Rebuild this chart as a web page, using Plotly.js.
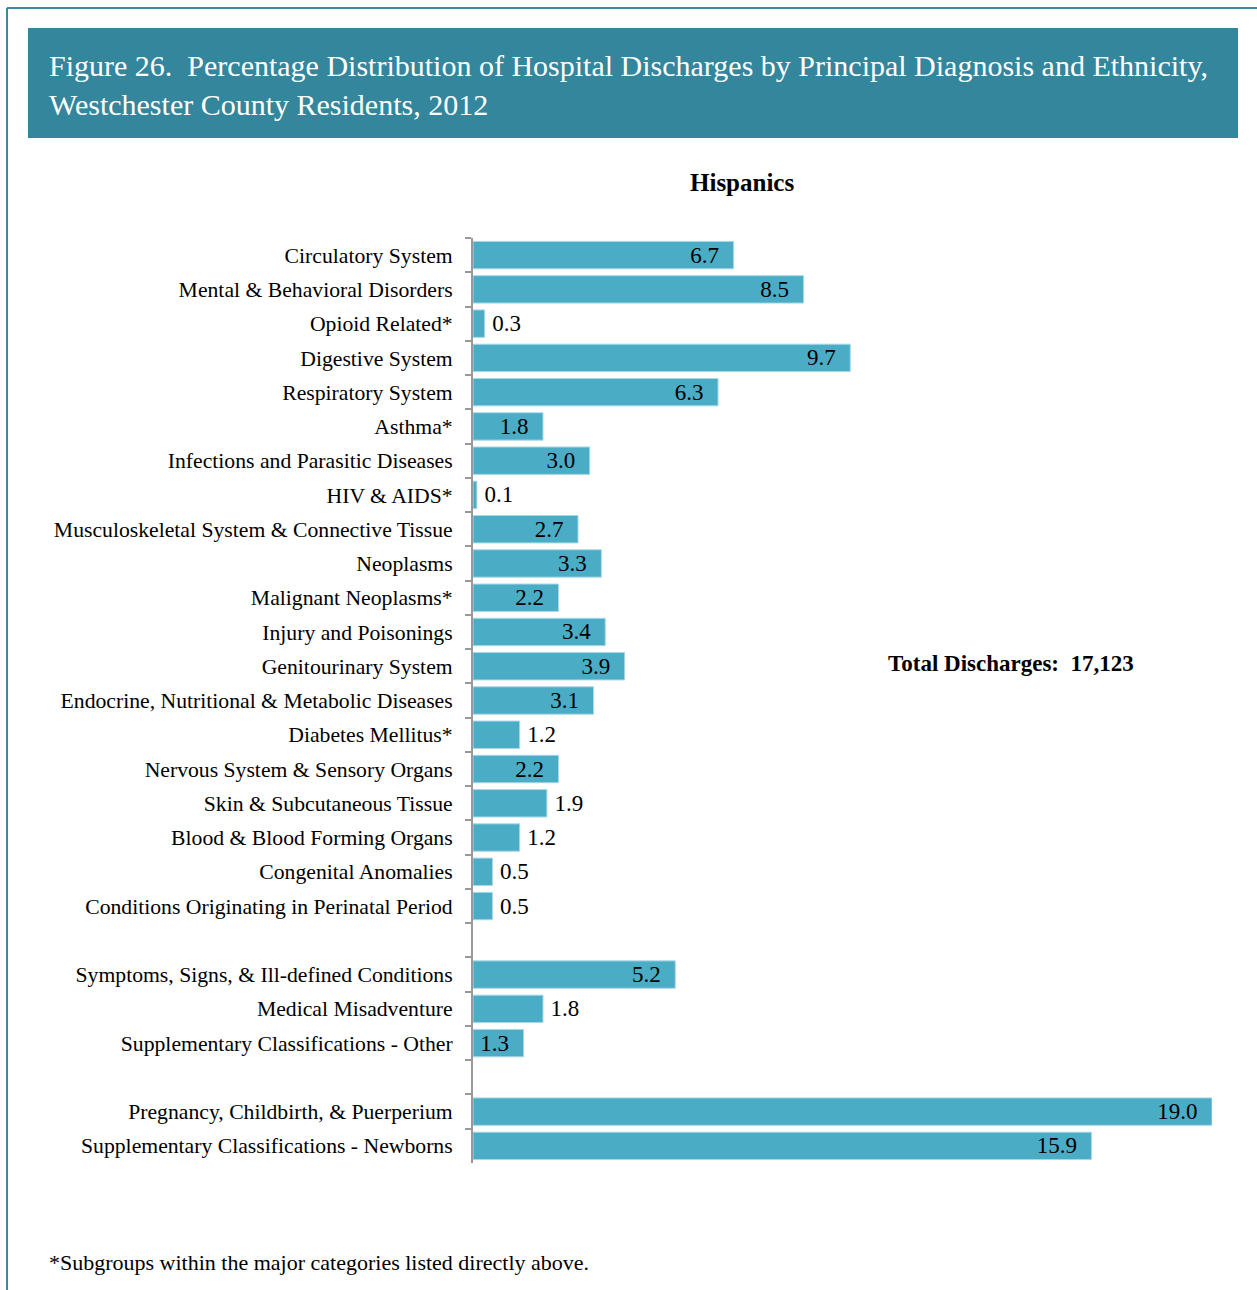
<!DOCTYPE html>
<html>
<head>
<meta charset="utf-8">
<script src="https://cdn.plot.ly/plotly-3.0.1.min.js"></script>
<style>
html,body{margin:0;padding:0;background:#fff;}
#chart{width:1257px;height:1290px;}
</style>
</head>
<body>
<div id="chart"></div>
<script>
const categories = [
  "Circulatory System",
  "Mental & Behavioral Disorders",
  "Opioid Related*",
  "Digestive System",
  "Respiratory System",
  "Asthma*",
  "Infections and Parasitic Diseases",
  "HIV & AIDS*",
  "Musculoskeletal System & Connective Tissue",
  "Neoplasms",
  "Malignant Neoplasms*",
  "Injury and Poisonings",
  "Genitourinary System",
  "Endocrine, Nutritional & Metabolic Diseases",
  "Diabetes Mellitus*",
  "Nervous System & Sensory Organs",
  "Skin & Subcutaneous Tissue",
  "Blood & Blood Forming Organs",
  "Congenital Anomalies",
  "Conditions Originating in Perinatal Period",
  " ",
  "Symptoms, Signs, & Ill-defined Conditions",
  "Medical Misadventure",
  "Supplementary Classifications - Other",
  "  ",
  "Pregnancy, Childbirth, & Puerperium",
  "Supplementary Classifications - Newborns"
];
const values = [
  6.7, 8.5, 0.3, 9.7, 6.3, 1.8, 3.0, 0.1, 2.7, 3.3, 2.2, 3.4, 3.9, 3.1, 1.2,
  2.2, 1.9, 1.2, 0.5, 0.5, null, 5.2, 1.8, 1.3, null, 19.0, 15.9
];
const outsideLabelCats = [
  "Opioid Related*", "HIV & AIDS*", "Diabetes Mellitus*", "Skin & Subcutaneous Tissue",
  "Blood & Blood Forming Organs", "Congenital Anomalies",
  "Conditions Originating in Perinatal Period", "Medical Misadventure"
];
const chartTitle = "Figure 26.  Percentage Distribution of Hospital Discharges by Principal Diagnosis and Ethnicity,<br>Westchester County Residents, 2012";
const panelTitle = "Hispanics";
const totalNote = "Total Discharges:  17,123";
const footnote = "*Subgroups within the major categories listed directly above.";

// plot area in pixels
const W = 1257, H = 1290;
const L = 473, R = 1212, T = 238, B = 1163;
const px = x => (x - L) / (R - L);
const py = y => (B - y) / (B - T);

const FONT = "Liberation Serif, Times New Roman, serif";

const texts = values.map((v, i) => {
  if (v === null) return "";
  const s = v.toFixed(1);
  return outsideLabelCats.includes(categories[i]) ? "\u2009" + s : s + "\u2002";
});
const positions = categories.map(c => outsideLabelCats.includes(c) ? "outside" : "inside");

const trace = {
  type: "bar",
  orientation: "h",
  y: categories,
  x: values,
  text: texts,
  textposition: positions,
  insidetextanchor: "end",
  textangle: 0,
  cliponaxis: false,
  constraintext: "none",
  textfont: {family: FONT, size: 23, color: "#000"},
  insidetextfont: {family: FONT, size: 23, color: "#000"},
  outsidetextfont: {family: FONT, size: 23, color: "#000"},
  marker: {color: "#4bacc6", line: {color: "#a9d8e6", width: 1}},
  hoverinfo: "y+x"
};

const layout = {
  width: W, height: H,
  paper_bgcolor: "#fff", plot_bgcolor: "#fff",
  margin: {l: L, r: W - R, t: T, b: H - B, pad: 0},
  showlegend: false,
  bargap: 0.2,
  xaxis: {
    range: [0, 19.0],
    showgrid: false, zeroline: false, showline: false,
    showticklabels: false, ticks: ""
  },
  yaxis: {
    type: "category",
    categoryorder: "array",
    categoryarray: categories,
    autorange: "reversed",
    showgrid: false, zeroline: false,
    showline: true, linecolor: "#999", linewidth: 2,
    ticks: "outside", ticklen: 6, tickcolor: "#999", tickwidth: 2,
    tickson: "boundaries",
    ticklabelstandoff: 14,
    tickfont: {family: FONT, size: 21.7, color: "#000"}
  },
  shapes: [
    {type: "rect", xref: "paper", yref: "paper", x0: px(28), x1: px(1238), y0: py(28), y1: py(138),
     fillcolor: "#33869c", line: {width: 0}, layer: "below"},
    {type: "line", xref: "paper", yref: "paper", x0: px(7), x1: px(1257), y0: py(8), y1: py(8),
     line: {color: "#3c88a0", width: 2}},
    {type: "line", xref: "paper", yref: "paper", x0: px(7), x1: px(7), y0: py(8), y1: py(1290),
     line: {color: "#3c88a0", width: 2}}
  ],
  annotations: [
    {text: chartTitle, xref: "paper", yref: "paper", x: px(47), y: py(85),
     xanchor: "left", yanchor: "middle", align: "left", showarrow: false,
     font: {family: FONT, size: 30, color: "#fff"}},
    {text: "<b>" + panelTitle + "</b>", xref: "paper", yref: "paper", x: px(742), y: py(183),
     xanchor: "center", yanchor: "middle", showarrow: false,
     font: {family: FONT, size: 25, color: "#000"}},
    {text: "<b>" + totalNote + "</b>", xref: "paper", yref: "paper", x: px(886), y: py(663),
     xanchor: "left", yanchor: "middle", showarrow: false,
     font: {family: FONT, size: 23, color: "#000"}},
    {text: footnote, xref: "paper", yref: "paper", x: px(47), y: py(1262),
     xanchor: "left", yanchor: "middle", showarrow: false,
     font: {family: FONT, size: 22, color: "#000"}}
  ]
};

Plotly.newPlot("chart", [trace], layout, {displayModeBar: false, staticPlot: true});
</script>
</body>
</html>
